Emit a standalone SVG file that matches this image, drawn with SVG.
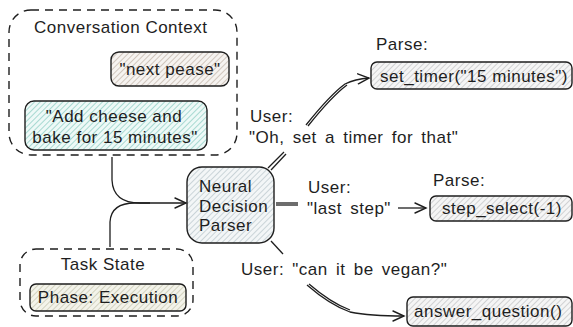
<svg xmlns="http://www.w3.org/2000/svg" width="573" height="327" viewBox="0 0 573 327">
<defs>
<pattern id="hTeal" width="4" height="4" patternUnits="userSpaceOnUse" patternTransform="rotate(45)"><rect width="4" height="4" fill="#eef9f7"/><line x1="0" y1="0" x2="0" y2="4" stroke="#80c8bc" stroke-width="1.3"/></pattern>
<pattern id="hBeige" width="4" height="4" patternUnits="userSpaceOnUse" patternTransform="rotate(45)"><rect width="4" height="4" fill="#f6f3f0"/><line x1="0" y1="0" x2="0" y2="4" stroke="#bcaea2" stroke-width="1.3"/></pattern>
<pattern id="hBlue" width="4" height="4" patternUnits="userSpaceOnUse" patternTransform="rotate(45)"><rect width="4" height="4" fill="#f3f6f7"/><line x1="0" y1="0" x2="0" y2="4" stroke="#b4c2c8" stroke-width="1.3"/></pattern>
<pattern id="hGray" width="4" height="4" patternUnits="userSpaceOnUse" patternTransform="rotate(45)"><rect width="4" height="4" fill="#f5f5f5"/><line x1="0" y1="0" x2="0" y2="4" stroke="#bcbec0" stroke-width="1.3"/></pattern>
<pattern id="hOlive" width="4" height="4" patternUnits="userSpaceOnUse" patternTransform="rotate(45)"><rect width="4" height="4" fill="#f3f3ea"/><line x1="0" y1="0" x2="0" y2="4" stroke="#c0c0a8" stroke-width="1.3"/></pattern>
<marker id="arr" markerWidth="14" markerHeight="12" refX="12" refY="6" orient="auto" markerUnits="userSpaceOnUse"><path d="M1,1 L12,6 L1,11" fill="none" stroke="#1e1e1e" stroke-width="1.4" stroke-linecap="round"/></marker>
</defs>
<style>
text{font-family:"Liberation Sans","Open Sans",sans-serif;font-size:17px;letter-spacing:0.5px;fill:#1e1e1e}
.box{stroke:#1e1e1e;stroke-width:1.4}
.dash{fill:none;stroke:#1e1e1e;stroke-width:1.4;stroke-dasharray:8 6}
.ln{fill:none;stroke:#1e1e1e;stroke-width:1.3}
.mid{text-anchor:middle}
.ws{word-spacing:3px}
</style>
<g id="conversation-context">
<rect class="dash" x="9" y="10" width="228" height="145" rx="22"/>
<text x="34" y="33">Conversation Context</text>
</g>
<g id="next-pease">
<rect class="box" x="111" y="52" width="118" height="34" rx="8" fill="url(#hBeige)"/>
<text class="mid" x="170" y="75">"next pease"</text>
</g>
<g id="add-cheese">
<rect class="box" x="25" y="101" width="182" height="49" rx="9" fill="url(#hTeal)"/>
<text class="mid" x="114" y="122">"Add cheese and</text>
<text class="mid" x="115" y="143">bake for 15 minutes"</text>
</g>
<g id="task-state">
<rect class="dash" x="20" y="249" width="173" height="67" rx="16"/>
<text class="mid" x="103" y="270">Task State</text>
</g>
<g id="phase">
<rect class="box" x="30" y="284" width="156" height="27" rx="6" fill="url(#hOlive)"/>
<text class="mid" x="108" y="303">Phase: Execution</text>
</g>
<g id="parser">
<rect class="box" x="187" y="167" width="87" height="76" rx="15" fill="url(#hBlue)"/>
<text x="199" y="192">Neural</text>
<text x="199" y="212">Decision</text>
<text x="199" y="231">Parser</text>
</g>
<g id="set-timer">
<text x="376" y="50">Parse:</text>
<rect class="box" x="371" y="62" width="201" height="27" rx="6" fill="url(#hGray)"/>
<text x="380" y="82">set_timer("15 minutes")</text>
</g>
<g id="step-select">
<text x="433" y="186">Parse:</text>
<rect class="box" x="430" y="196" width="142" height="25" rx="6" fill="url(#hGray)"/>
<text x="442" y="214">step_select(-1)</text>
</g>
<g id="answer-question">
<rect class="box" x="407" y="297" width="165" height="29" rx="6" fill="url(#hGray)"/>
<text x="414" y="317">answer_question()</text>
</g>
<g id="labels">
<text x="250" y="122">User:</text>
<text class="ws" x="249" y="143">"Oh, set a timer for that"</text>
<text x="308" y="193">User:</text>
<text class="ws" x="307" y="214">"last step"</text>
<text class="ws" x="241" y="275">User: "can it be vegan?"</text>
</g>
<g id="connectors">
<path class="ln" d="M112,157 L112,180 Q113,203 140,203 L186,203" marker-end="url(#arr)"/>
<path class="ln" d="M110,247 L110,222 Q111,203 135,203 L150,203"/>
<path class="ln" d="M268,168 L284,152"/>
<path class="ln" d="M271,170 L286,154"/>
<path class="ln" d="M306,125 Q330,95 345,84 Q355,79 369,78" marker-end="url(#arr)"/>
<path class="ln" d="M308,126 Q332,96 347,85"/>
<path class="ln" d="M276,203 L298,203"/>
<path class="ln" d="M276,205 L298,205"/>
<path class="ln" d="M398,208 L426,208" marker-end="url(#arr)"/>
<path class="ln" d="M271,241 L283,254"/>
<path class="ln" d="M307,285 Q330,305 350,312 Q370,316 404,316" marker-end="url(#arr)"/>
<path class="ln" d="M309,284 Q331,303 350,310"/>
</g>
</svg>
